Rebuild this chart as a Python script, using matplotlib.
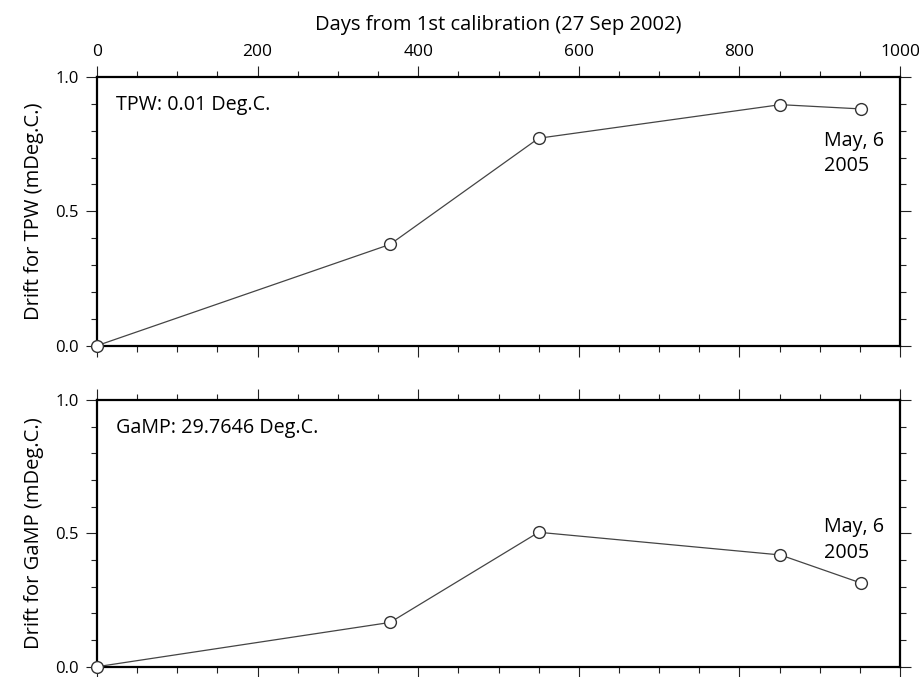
import matplotlib.pyplot as plt
from matplotlib.ticker import MultipleLocator

plt.rcParams['font.family'] = ['Open Sans', 'DejaVu Sans']

# days since first calibration (27 Sep 2002)
days = [0, 365, 550, 851, 952]
tpw_drift = [0.0, 0.377, 0.772, 0.897, 0.881]
gamp_drift = [0.0, 0.166, 0.504, 0.419, 0.313]

panel_names = ["TPW: 0.01 Deg.C.", "GaMP: 29.7646 Deg.C."]
ylabels = ["Drift for TPW (mDeg.C.)", "Drift for GaMP (mDeg.C.)"]
end_note = "May, 6\n2005"

fig = plt.figure(figsize=(9.2, 6.77), dpi=100)
ax1 = fig.add_axes([0.1054, 0.4894, 0.8729, 0.3969])
ax2 = fig.add_axes([0.1054, 0.0152, 0.8729, 0.3940])

note_y = [0.715, 0.475]
for ax, vals, name, ylab, ny in zip([ax1, ax2], [tpw_drift, gamp_drift],
                                    panel_names, ylabels, note_y):
    ax.plot(days, vals, color='#444444', lw=0.9, marker='o', ms=8.5,
            mfc='white', mec='#333333', mew=1.0, clip_on=False, zorder=5)
    ax.set_xlim(0, 1000)
    ax.set_ylim(0, 1.0)
    ax.xaxis.set_major_locator(MultipleLocator(200))
    ax.xaxis.set_minor_locator(MultipleLocator(50))
    ax.yaxis.set_major_locator(MultipleLocator(0.5))
    ax.yaxis.set_minor_locator(MultipleLocator(0.1))
    ax.yaxis.set_major_formatter(plt.FormatStrFormatter('%.1f'))
    for s in ax.spines.values():
        s.set_linewidth(1.6)
    ax.tick_params(which='both', direction='out', top=True, bottom=True,
                   left=True, right=True, width=0.8, color='#222222')
    ax.tick_params(which='major', length=8)
    ax.tick_params(which='minor', length=4.5)
    ax.tick_params(axis='y', labelsize=12, pad=5)
    ax.tick_params(axis='x', labelbottom=False, labeltop=False)
    ax.set_ylabel(ylab, fontsize=14.5, labelpad=8)
    ax.text(24, 0.895, name, fontsize=14.2, va='center', ha='left')
    ax.text(905, ny, end_note, fontsize=14.2, va='center', ha='left',
            linespacing=1.35)

ax1.tick_params(axis='x', labeltop=True, labelsize=12.5, pad=4)
ax1.xaxis.set_label_position('top')
ax1.set_xlabel("Days from 1st calibration (27 Sep 2002)", fontsize=14.5,
               labelpad=10)

fig.savefig("out.png", dpi=100)
